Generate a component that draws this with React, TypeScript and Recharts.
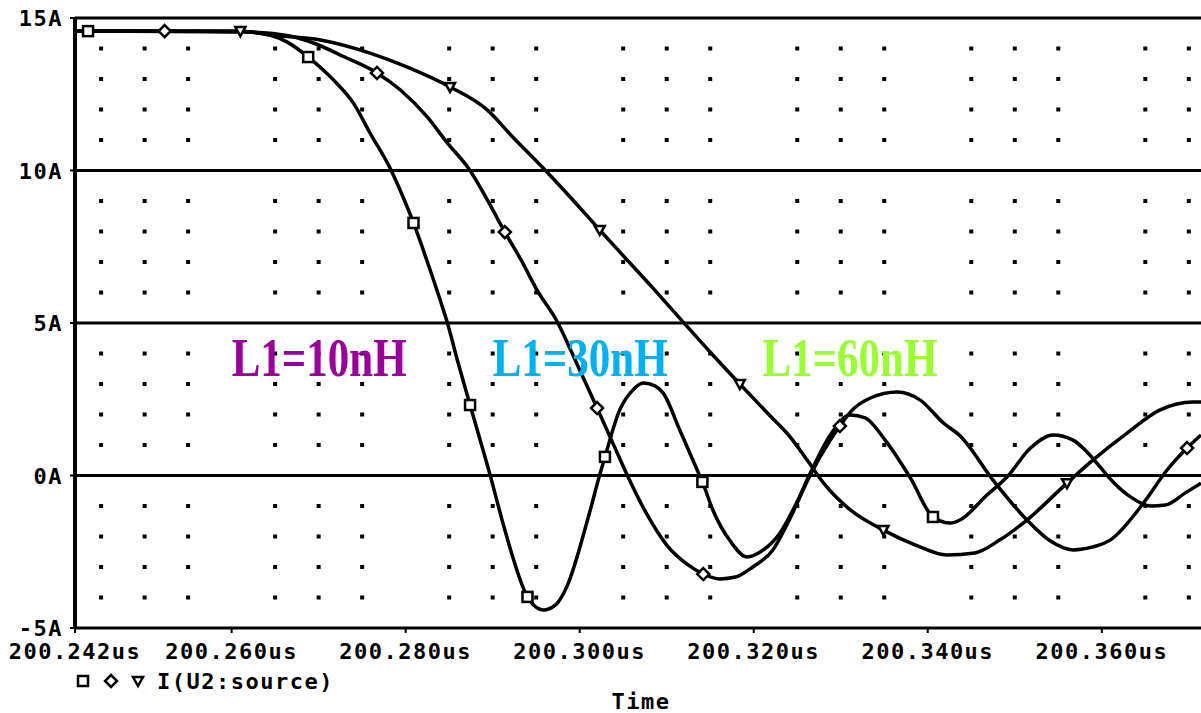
import React from 'react';
import { ComposedChart, Line, Scatter, XAxis, YAxis, ReferenceLine, ReferenceDot } from 'recharts';

// ---- tick labels ----
const xTicks = [200.242, 200.26, 200.28, 200.3, 200.32, 200.34, 200.36];
const xTickLabels = ['200.242us', '200.260us', '200.280us', '200.300us', '200.320us', '200.340us', '200.360us'];
const yTicks = [-5, 0, 5, 10, 15];
const yTickLabels = ['-5A', '0A', '5A', '10A', '15A'];
const xDomain = [200.242, 200.3714];
const yDomain = [-5, 15];

// ---- series: L1 = 10nH ----
const t10 = [200.2420, 200.2435, 200.2621, 200.2644, 200.2664, 200.2688, 200.2717, 200.2740, 200.2759, 200.2782, 200.2797, 200.2809, 200.2825, 200.2840, 200.2848, 200.2860, 200.2874, 200.2897, 200.2914, 200.2940, 200.2958, 200.2972, 200.2985, 200.3009, 200.3023, 200.3029, 200.3046, 200.3061, 200.3073, 200.3087, 200.3096, 200.3115, 200.3135, 200.3141, 200.3153, 200.3173, 200.3192, 200.3211, 200.3230, 200.3248, 200.3265, 200.3288, 200.3311, 200.3328, 200.3351, 200.3380, 200.3406, 200.3426, 200.3437, 200.3468, 200.3491, 200.3518, 200.3544, 200.3567, 200.3583, 200.3598, 200.3613, 200.3633, 200.3656, 200.3673, 200.3696, 200.3714];
const i10 = [14.57, 14.57, 14.54, 14.44, 14.21, 13.72, 12.97, 12.21, 11.23, 10.08, 9.13, 8.28, 7.00, 5.72, 5.00, 3.72, 2.31, 0.02, -1.79, -3.98, -4.41, -4.25, -3.66, -1.46, 0.02, 0.61, 2.15, 2.80, 3.03, 2.93, 2.70, 1.49, 0.18, -0.21, -1.13, -2.15, -2.67, -2.44, -1.89, -0.97, 0.08, 1.33, 1.98, 1.89, 1.16, -0.08, -1.36, -1.56, -1.46, -0.64, -0.05, 0.90, 1.33, 1.16, 0.77, 0.28, -0.21, -0.70, -1.00, -0.97, -0.57, -0.25];
const mark10 = [200.2435, 200.2688, 200.2809, 200.2874, 200.2940, 200.3029, 200.3141, 200.3406];

// ---- series: L1 = 30nH ----
const t30 = [200.2420, 200.2523, 200.2621, 200.2667, 200.2694, 200.2730, 200.2767, 200.2794, 200.2825, 200.2848, 200.2872, 200.2894, 200.2914, 200.2932, 200.2951, 200.2974, 200.2997, 200.3020, 200.3038, 200.3054, 200.3077, 200.3100, 200.3123, 200.3142, 200.3161, 200.3179, 200.3199, 200.3222, 200.3242, 200.3265, 200.3288, 200.3299, 200.3311, 200.3334, 200.3365, 200.3391, 200.3418, 200.3437, 200.3475, 200.3514, 200.3541, 200.3567, 200.3590, 200.3610, 200.3648, 200.3675, 200.3698, 200.3714];
const i30 = [14.57, 14.57, 14.54, 14.41, 14.18, 13.72, 13.20, 12.64, 11.75, 10.90, 10.08, 9.03, 7.98, 7.10, 6.08, 5.05, 3.65, 2.21, 1.07, 0.05, -1.26, -2.28, -2.90, -3.23, -3.39, -3.33, -3.00, -2.44, -1.39, 0.02, 1.16, 1.62, 2.08, 2.54, 2.74, 2.48, 1.72, 1.30, -0.15, -1.46, -2.15, -2.44, -2.34, -2.11, -0.90, 0.18, 0.90, 1.33];
const mark30 = [200.2523, 200.2767, 200.2914, 200.3020, 200.3142, 200.3299, 200.3698];

// ---- series: L1 = 60nH ----
const t60 = [200.2420, 200.2610, 200.2644, 200.2702, 200.2759, 200.2802, 200.2851, 200.2894, 200.2923, 200.2958, 200.2989, 200.3023, 200.3046, 200.3084, 200.3119, 200.3153, 200.3184, 200.3219, 200.3242, 200.3263, 200.3282, 200.3311, 200.3349, 200.3386, 200.3422, 200.3454, 200.3483, 200.3514, 200.3560, 200.3590, 200.3629, 200.3667, 200.3705, 200.3714];
const i60 = [14.57, 14.57, 14.44, 14.28, 13.85, 13.39, 12.74, 11.98, 11.10, 10.08, 9.13, 8.05, 7.33, 6.15, 5.03, 3.95, 3.00, 1.95, 1.26, 0.44, -0.31, -1.13, -1.79, -2.28, -2.61, -2.54, -2.11, -1.46, -0.25, 0.51, 1.39, 2.15, 2.41, 2.41];
const mark60 = [200.2610, 200.2851, 200.3023, 200.3184, 200.3349, 200.3560];

// ---- annotations ----
const seriesNames = ['L1=10nH', 'L1=30nH', 'L1=60nH'];
const seriesColors = ['#990099', '#00B0F0', '#99FF33'];
const labelTimes = [200.2600, 200.2900, 200.3210];
const labelLevel = 3.26;
const legendText = 'I(U2:source)';
const xTitle = 'Time';

// ---- dotted grid ----
const gridTimes = [200.245, 200.25, 200.255, 200.265, 200.27, 200.275, 200.285, 200.29, 200.295, 200.305, 200.31, 200.315, 200.325, 200.33, 200.335, 200.345, 200.35, 200.355, 200.365, 200.37];
const gridLevels = [-4, -3, -2, -1, 1, 2, 3, 4, 6, 7, 8, 9, 11, 12, 13, 14];
const majorLevels = [10, 5, 0];

const zip = (ts: number[], vs: number[]) => ts.map((t, k) => ({ t, v: vs[k] }));
const data10 = zip(t10, i10);
const data30 = zip(t30, i30);
const data60 = zip(t60, i60);
const gridPoints = gridTimes.flatMap((t) => gridLevels.map((v) => ({ t, v })));

const MONO = "'DejaVu Sans Mono', 'Liberation Mono', monospace";
const SERIF = "'Liberation Serif', 'Times New Roman', serif";

type Shape = 'square' | 'diamond' | 'triangle';

const MarkerShape = ({ cx, cy, kind }: { cx: number; cy: number; kind: Shape }) => {
  const s = 5;
  if (kind === 'square') {
    return <rect x={cx - s} y={cy - s} width={2 * s} height={2 * s} fill="#fff" stroke="#000" strokeWidth={2.5} />;
  }
  if (kind === 'diamond') {
    return <polygon points={`${cx},${cy - s - 1} ${cx + s + 1},${cy} ${cx},${cy + s + 1} ${cx - s - 1},${cy}`} fill="#fff" stroke="#000" strokeWidth={2.5} />;
  }
  return <polygon points={`${cx - s},${cy - s + 1} ${cx + s},${cy - s + 1} ${cx},${cy + s}`} fill="#fff" stroke="#000" strokeWidth={2.5} />;
};

const makeDot = (marks: number[], kind: Shape) => (props: any) => {
  const { cx, cy, payload, index } = props;
  if (!payload || !marks.includes(payload.t) || cx == null || cy == null) return <g key={`d${index}`} />;
  return (
    <g key={`d${index}`}>
      <MarkerShape cx={cx} cy={cy} kind={kind} />
    </g>
  );
};

const XTick = (props: any) => {
  const { x, y, payload } = props;
  const k = xTicks.indexOf(payload.value);
  return (
    <text x={x} y={y + 24} textAnchor="middle" fontFamily={MONO} fontWeight="bold" fontSize={22} letterSpacing={1.5} fill="#000">
      {k >= 0 ? xTickLabels[k] : ''}
    </text>
  );
};

const YTick = (props: any) => {
  const { x, y, payload } = props;
  const k = yTicks.indexOf(payload.value);
  return (
    <text x={x - 5} y={y + 8} textAnchor="end" fontFamily={MONO} fontWeight="bold" fontSize={22} letterSpacing={1.5} fill="#000">
      {k >= 0 ? yTickLabels[k] : ''}
    </text>
  );
};

const GridDot = (props: any) => {
  const { cx, cy } = props;
  return <rect x={cx - 2} y={cy - 2} width={4} height={4} fill="#000" />;
};

export default function App() {
  return (
    <div style={{ position: 'fixed', left: 0, top: 0, width: 1201, height: 713, background: '#fff', overflow: 'hidden' }}>
      <ComposedChart width={1201} height={713} margin={{ top: 18, right: 0, bottom: 0, left: 0 }}>
        <XAxis
          type="number"
          dataKey="t"
          domain={xDomain}
          ticks={xTicks}
          allowDataOverflow
          height={85}
          axisLine={{ stroke: '#000', strokeWidth: 3 }}
          tickLine={{ stroke: '#000', strokeWidth: 2 }}
          tickSize={5}
          tick={<XTick />}
          interval={0}
        />
        <YAxis
          type="number"
          dataKey="v"
          domain={yDomain}
          ticks={yTicks}
          allowDataOverflow
          width={75}
          axisLine={{ stroke: '#000', strokeWidth: 4 }}
          tickLine={{ stroke: '#000', strokeWidth: 2 }}
          tickSize={5}
          tick={<YTick />}
          interval={0}
        />
        <ReferenceLine y={15} stroke="#000" strokeWidth={3} />
        {majorLevels.map((lv) => (
          <ReferenceLine key={lv} y={lv} stroke="#000" strokeWidth={3} />
        ))}
        <Scatter data={gridPoints} dataKey="v" shape={<GridDot />} isAnimationActive={false} />
        <Line data={data60} dataKey="v" type="monotone" stroke="#000" strokeWidth={3.5} dot={makeDot(mark60, 'triangle')} activeDot={false} isAnimationActive={false} />
        <Line data={data30} dataKey="v" type="monotone" stroke="#000" strokeWidth={3.5} dot={makeDot(mark30, 'diamond')} activeDot={false} isAnimationActive={false} />
        <Line data={data10} dataKey="v" type="monotone" stroke="#000" strokeWidth={3.5} dot={makeDot(mark10, 'square')} activeDot={false} isAnimationActive={false} />
        {seriesNames.map((name, k) => (
          <ReferenceDot
            key={name}
            x={labelTimes[k]}
            y={labelLevel}
            r={1}
            shape={(p: any) => (
              <text x={p.cx} y={p.cy} fontFamily={SERIF} fontWeight="bold" fontSize={54} textLength={175} lengthAdjust="spacingAndGlyphs" fill={seriesColors[k]}>
                {name}
              </text>
            )}
          />
        ))}
      </ComposedChart>
      <svg width={1201} height={713} style={{ position: 'absolute', left: 0, top: 0, pointerEvents: 'none' }}>
        <MarkerShape cx={83} cy={681} kind="square" />
        <MarkerShape cx={111} cy={681} kind="diamond" />
        <MarkerShape cx={138} cy={681} kind="triangle" />
        <text x={157} y={689} fontFamily={MONO} fontWeight="bold" fontSize={22} letterSpacing={1.5} fill="#000">
          {legendText}
        </text>
        <text x={641} y={709} textAnchor="middle" fontFamily={MONO} fontWeight="bold" fontSize={22} letterSpacing={1.5} fill="#000">
          {xTitle}
        </text>
      </svg>
    </div>
  );
}
